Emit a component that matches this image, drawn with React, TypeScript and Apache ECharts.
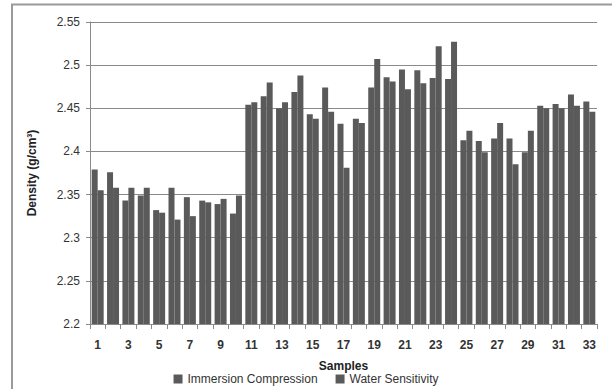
import React, { useEffect, useRef } from "react";
import * as echarts from "echarts";

const categories = Array.from({ length: 33 }, (_, i) => String(i + 1));
const immersionCompression = [
  2.379, 2.376, 2.343, 2.349, 2.332, 2.358, 2.347, 2.343, 2.339, 2.328,
  2.454, 2.464, 2.45, 2.469, 2.443, 2.474, 2.432, 2.438, 2.474, 2.486,
  2.495, 2.494, 2.485, 2.484, 2.413, 2.412, 2.415, 2.415, 2.399, 2.453,
  2.455, 2.466, 2.458,
];
const waterSensitivity = [
  2.355, 2.358, 2.358, 2.358, 2.329, 2.321, 2.325, 2.341, 2.345, 2.349,
  2.457, 2.48, 2.457, 2.488, 2.438, 2.446, 2.381, 2.433, 2.507, 2.481,
  2.472, 2.479, 2.522, 2.527, 2.424, 2.399, 2.433, 2.385, 2.424, 2.45,
  2.45, 2.453, 2.446,
];

const FONT = "'Liberation Sans', 'DejaVu Sans', sans-serif";

export default function App() {
  const ref = useRef<HTMLDivElement>(null);
  useEffect(() => {
    if (!ref.current) return;
    const chart = echarts.init(ref.current, undefined, { renderer: "svg" });
    chart.setOption({
      animation: false,
      backgroundColor: "#ffffff",
      textStyle: { fontFamily: FONT },
      graphic: [
        {
          type: "rect",
          shape: { x: 12, y: 4.5, width: 640, height: 420 },
          style: { fill: "none", stroke: "#9a9a9a", lineWidth: 2 },
          silent: true,
          z: -10,
        },
      ],
      grid: { left: 90, right: 15, top: 22, bottom: 65 },
      legend: {
        bottom: -1,
        left: "center",
        itemWidth: 9,
        itemHeight: 9,
        itemGap: 18,
        icon: "rect",
        textStyle: { fontSize: 12, color: "#333", fontFamily: FONT },
        data: ["Immersion Compression", "Water Sensitivity"],
      },
      xAxis: {
        type: "category",
        data: categories,
        name: "Samples",
        nameLocation: "middle",
        nameGap: 36,
        nameTextStyle: { fontWeight: "bold", fontSize: 12, color: "#222" },
        axisLine: { lineStyle: { color: "#8a8a8a", width: 1 } },
        axisTick: { show: true, interval: 0, length: 5, lineStyle: { color: "#8a8a8a" } },
        axisLabel: { interval: 1, fontSize: 12, fontWeight: "bold", color: "#333", margin: 15 },
      },
      yAxis: {
        type: "value",
        min: 2.2,
        max: 2.55,
        interval: 0.05,
        name: "Density (g/cm³)",
        nameLocation: "middle",
        nameGap: 52,
        nameTextStyle: { fontWeight: "bold", fontSize: 12, color: "#222" },
        axisLine: { show: true, lineStyle: { color: "#8a8a8a", width: 1 } },
        axisTick: { show: true, length: 4, lineStyle: { color: "#8a8a8a" } },
        splitLine: { lineStyle: { color: "#8a8a8a", width: 1 } },
        axisLabel: {
          fontSize: 12,
          color: "#333",
          margin: 10,
          formatter: (v: number) => String(parseFloat(v.toFixed(2))),
        },
      },
      series: [
        {
          name: "Immersion Compression",
          type: "bar",
          data: immersionCompression,
          barGap: "0%",
          barCategoryGap: "22%",
          itemStyle: { color: "#5a5a5a" },
        },
        {
          name: "Water Sensitivity",
          type: "bar",
          data: waterSensitivity,
          itemStyle: { color: "#5a5a5a" },
        },
      ],
    });
    return () => chart.dispose();
  }, []);
  return (
    <div style={{ position: "absolute", left: 0, top: 0 }}>
      <div ref={ref} style={{ width: 612, height: 389 }} />
    </div>
  );
}
